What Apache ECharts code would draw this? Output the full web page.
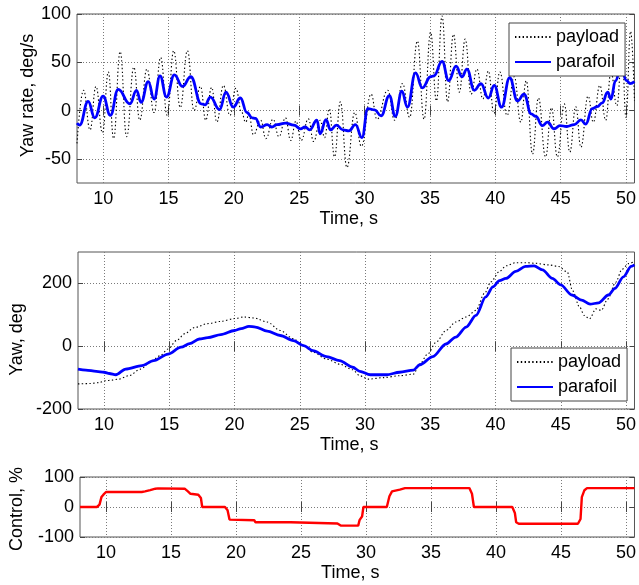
<!DOCTYPE html>
<html>
<head>
<meta charset="utf-8">
<script src="https://cdn.jsdelivr.net/npm/echarts@6/dist/echarts.min.js"></script>
<style>
  html, body { margin: 0; padding: 0; background: #fff; }
  #chart { width: 639px; height: 585px; }
</style>
</head>
<body>
<div id="chart"></div>
<script>
// Yaw rate, deg/s : [time s, value]
const payloadRate = [
  [8.0,-34],[8.5,21],[9.0,-20],[9.45,25],[9.95,-23],[10.4,40],[10.8,-29],[11.3,61],[11.8,-27],
  [12.35,45],[12.8,-10],[13.35,43],[13.9,-2],[14.4,55],[14.9,-5],[15.4,62],[15.9,3],[16.45,62],
  [16.95,0],[17.45,25],[17.85,-10],[18.3,24],[18.7,-12],[19.2,26],[19.7,-5],[20.15,23],[20.6,-2],
  [20.9,-12],[21.15,-4],[21.5,-25],[22.05,-10],[22.45,-29],[23.0,-9],[23.45,-27],[23.95,-7.5],
  [24.35,-31],[24.75,-11],[25.15,-31],[25.7,-8.5],[26.1,-32],[26.6,-10],[26.95,-28],[27.3,2],
  [27.7,-48],[28.15,9],[28.65,-59],[29.25,-2],[29.75,-37],[30.5,17],[30.95,-9],[31.77,21],
  [32.3,-10],[32.9,28],[33.45,-7],[34.04,72],[34.55,-9],[35.05,81],[35.5,10],[35.93,98],[36.35,9],
  [36.8,79],[37.25,19],[37.7,74],[38.15,17],[38.6,43],[39.05,12],[39.47,41],[39.9,-3],[40.35,40],
  [40.9,-5],[41.45,35],[41.95,-12],[42.37,31],[42.85,-45],[43.3,13],[43.85,-48],[44.3,3],
  [44.75,-48],[45.28,7],[45.7,-43],[46.16,4],[46.55,-38],[47.1,15],[47.5,-12],[48.0,26],
  [48.45,-10],[48.85,40],[49.3,5],[49.7,60],[50.0,-7],[50.35,82],[50.65,10]
];
const parafoilRate = [
  [8.0,-13],[8.2,-15],[8.85,9.5],[9.36,-7.5],[10.0,15],[10.55,-5],[11.15,22],[12.05,7],[12.55,21],
  [12.9,8.5],[13.45,30],[13.9,12],[14.35,36],[14.85,14],[15.45,37],[16.07,25],[16.7,35],[17.5,7],
  [17.8,6],[18.2,14],[18.9,1],[19.4,19],[19.95,3.5],[20.5,13],[21.0,-2],[21.4,-7.5],[21.65,-8],
  [22.05,-17],[22.55,-14.6],[22.9,-17],[23.3,-14.6],[23.95,-13],[24.6,-15],[25.1,-19],[25.45,-17],
  [25.8,-20],[26.35,-10],[26.6,-24],[27.05,-9.5],[27.4,-20],[27.85,-15],[28.35,-20],[28.8,-21],
  [29.3,-14.5],[29.8,-28],[30.25,2],[30.77,0.7],[31.26,-5.5],[31.9,15.5],[32.35,-6],[32.85,20],
  [33.28,3.5],[33.9,39],[34.42,23.5],[35.05,35],[35.3,36],[35.93,51],[36.44,31],[37.0,46],
  [37.45,35],[37.83,43],[38.4,21],[38.9,28],[39.47,13],[39.92,26],[40.48,3.5],[41.1,34],[41.7,10],
  [42.2,17],[42.75,-3.5],[43.1,-6],[43.6,-15.5],[44.0,-12],[44.5,-19],[44.95,-15.5],[45.45,-16.5],
  [46.05,-14.5],[46.55,-9.7],[46.92,-14],[47.42,2],[47.8,4],[48.18,8],[48.6,19],[48.85,12],
  [49.2,31],[49.6,45],[50.05,31],[50.3,28],[50.65,30]
];

// Yaw, deg : [time s, value]
const payloadYaw = [
  [8.0,-120],[8.9,-119],[9.6,-116],[10.1,-110],[10.6,-108],[11.1,-105],[11.9,-94],[12.8,-73],
  [13.65,-46],[14.3,-30],[14.9,-9],[15.55,18],[16.2,40],[16.9,59],[17.95,72],[18.95,79],[20.0,88],
  [20.7,93],[21.5,90],[22.5,77],[23.5,50],[24.5,24],[25.3,2],[26.0,-19],[27.05,-41],[28.05,-57],
  [29.05,-75],[29.6,-94],[30.25,-105],[31.4,-100],[32.65,-94],[33.7,-89],[34.2,-57],[34.8,-25],
  [35.45,13],[36.2,50],[36.95,77],[37.75,93],[38.5,114],[39.15,168],[39.65,205],[40.3,238],
  [40.8,256],[41.55,266],[42.3,266],[43.05,264],[44.05,259],[44.85,254],[45.5,236],[45.9,177],
  [46.45,124],[46.8,98],[47.2,87],[47.7,119],[48.1,114],[48.6,150],[49.2,203],[49.7,245],
  [50.2,263],[50.65,270]
];
const parafoilYaw = [
  [8.0,-73],[8.6,-76],[9.4,-80],[10.0,-83],[10.4,-87],[10.9,-91],[11.65,-73],[12.9,-62],
  [13.8,-46],[14.9,-25],[15.9,-3],[16.55,8],[17.3,23],[17.95,27],[18.95,37],[20.0,50],[20.5,56],
  [21.1,63],[21.6,61],[22.5,48],[23.5,34],[24.5,18],[25.3,2],[26.0,-14],[27.05,-33],[28.05,-46],
  [29.05,-67],[29.6,-80],[30.4,-91],[31.65,-91],[32.65,-83],[33.7,-76],[34.2,-59],[35.2,-33],
  [36.2,7],[36.95,29],[37.75,61],[38.5,98],[39.25,157],[39.8,189],[40.3,209],[40.8,216],
  [41.55,238],[42.3,254],[42.95,256],[43.6,243],[44.35,216],[45.0,195],[45.85,163],[46.6,147],
  [47.25,134],[47.9,138],[48.65,163],[49.15,184],[49.8,221],[50.4,254],[50.65,259]
];

// Control, % : [time s, value]
const controlPct = [
  [8.0,0],[9.3,0],[9.5,8],[9.65,33],[9.8,41],[10.0,50],[12.75,50],[13.0,52],[13.4,56],[13.8,61],
  [14.0,62],[16.05,61],[16.3,52],[16.5,44],[17.1,41],[17.3,30],[17.4,0],[19.15,0],[19.35,-11],
  [19.5,-42],[19.55,-44],[21.4,-44],[21.5,-51],[24.2,-51],[24.3,-55],[27.8,-55],[28.05,-62],
  [29.4,-62],[29.5,-44],[29.7,-31],[29.8,0],[31.6,0],[31.8,36],[32.0,52],[32.6,58],[33.0,63],
  [37.95,63],[38.15,44],[38.3,0],[41.25,0],[41.45,-20],[41.55,-51],[41.75,-56],[46.3,-56],
  [46.5,-40],[46.6,33],[46.8,56],[47.0,63],[50.65,63]
];

const timeTicks = [10, 15, 20, 25, 30, 35, 40, 45, 50];
const rateTicks = [-50, 0, 50, 100];
const yawTicks = [-200, 0, 200];
const controlTicks = [-100, 0, 100];

const FONT = '"Liberation Sans", Arial, Helvetica, sans-serif';
const T_MIN = 8, T_MAX = 50.65;
const gridLine = { show: true, lineStyle: { color: '#7a7a7a', width: 1, type: [1, 2] } };
const tickStyle = { color: '#444', width: 1 };
const labelText = { color: '#000', fontSize: 18, fontFamily: FONT };

const panels = [
  { top: 14,  height: 169, yMin: -75,  yMax: 100, ticks: rateTicks,    name: 'Yaw rate, deg/s', gap: 40, pad: [0, 0, 0, 6] },
  { top: 252, height: 157, yMin: -200, yMax: 300, ticks: yawTicks,     name: 'Yaw, deg',        gap: 52, pad: [0, 18, 0, 0] },
  { top: 477, height: 60,  yMin: -100, yMax: 100, ticks: controlTicks, name: 'Control, %',      gap: 54, pad: [0, 4, 0, 0] }
];

const grids = panels.map(p => ({
  left: 77, width: 559, top: p.top, height: p.height,
  show: true, borderColor: '#555', borderWidth: 1, backgroundColor: '#fff'
}));

const xAxes = [];
const yAxes = [];
panels.forEach((p, i) => {
  xAxes.push({
    type: 'value', gridIndex: i, min: T_MIN, max: T_MAX, position: 'bottom',
    axisLine: { show: false },
    axisTick: { show: true, inside: true, length: 5, lineStyle: tickStyle, customValues: timeTicks },
    axisLabel: Object.assign({ customValues: timeTicks, margin: 7 }, labelText),
    splitLine: gridLine,
    name: 'Time, s', nameLocation: 'middle', nameGap: 27, nameMoveOverlap: false,
    nameTextStyle: Object.assign({ padding: [0, 14, 0, 0] }, labelText)
  });
  yAxes.push({
    type: 'value', gridIndex: i, min: p.yMin, max: p.yMax, position: 'left',
    axisLine: { show: false },
    axisTick: { show: true, inside: true, length: 5, lineStyle: tickStyle, customValues: p.ticks },
    axisLabel: Object.assign({ customValues: p.ticks, margin: 6 }, labelText),
    splitLine: gridLine,
    name: p.name, nameLocation: 'middle', nameRotate: 90, nameGap: p.gap, nameMoveOverlap: false,
    nameTextStyle: Object.assign({ padding: p.pad }, labelText)
  });
});
// mirrored ticks on the top and right edges of each box
panels.forEach((p, i) => {
  xAxes.push({
    type: 'value', gridIndex: i, min: T_MIN, max: T_MAX, position: 'top',
    axisLine: { show: false }, axisLabel: { show: false }, splitLine: { show: false },
    axisTick: { show: true, inside: true, length: 5, lineStyle: tickStyle, customValues: timeTicks }
  });
  yAxes.push({
    type: 'value', gridIndex: i, min: p.yMin, max: p.yMax, position: 'right',
    axisLine: { show: false }, axisLabel: { show: false }, splitLine: { show: false },
    axisTick: { show: true, inside: true, length: 5, lineStyle: tickStyle, customValues: p.ticks }
  });
});

const payloadStyle = { color: '#000', width: 1.1, type: [1.4, 2.4] };
const parafoilStyle = { color: '#0000ff', width: 2.8, type: 'solid' };

function lineSeries(name, idx, data, style, smooth) {
  return {
    type: 'line', name: name, xAxisIndex: idx, yAxisIndex: idx, data: data,
    symbol: 'none', showSymbol: false, smooth: smooth, smoothMonotone: 'x',
    lineStyle: style, itemStyle: { color: style.color }, emphasis: { disabled: true }
  };
}

const legendBase = {
  orient: 'vertical', data: ['payload', 'parafoil'],
  itemWidth: 36, itemHeight: 14, itemGap: 7,
  itemStyle: { opacity: 0 },
  padding: [5, 6, 5, 5], backgroundColor: '#fff', borderColor: '#444', borderWidth: 1,
  textStyle: { color: '#000', fontSize: 18, fontFamily: FONT }, selectedMode: false
};

const option = {
  animation: false,
  backgroundColor: '#fff',
  grid: grids,
  xAxis: xAxes,
  yAxis: yAxes,
  legend: [
    Object.assign({ left: 509, top: 23 }, legendBase),
    Object.assign({ left: 511, top: 348 }, legendBase)
  ],
  series: [
    lineSeries('payload', 0, payloadRate, payloadStyle, 0.45),
    lineSeries('parafoil', 0, parafoilRate, parafoilStyle, 0.45),
    lineSeries('payload', 1, payloadYaw, payloadStyle, 0.3),
    lineSeries('parafoil', 1, parafoilYaw, parafoilStyle, 0.3),
    lineSeries('control', 2, controlPct, { color: '#ff0000', width: 2.4, type: 'solid' }, false)
  ]
};

const chart = echarts.init(document.getElementById('chart'), null, { renderer: 'canvas' });
chart.setOption(option);
</script>
</body>
</html>
